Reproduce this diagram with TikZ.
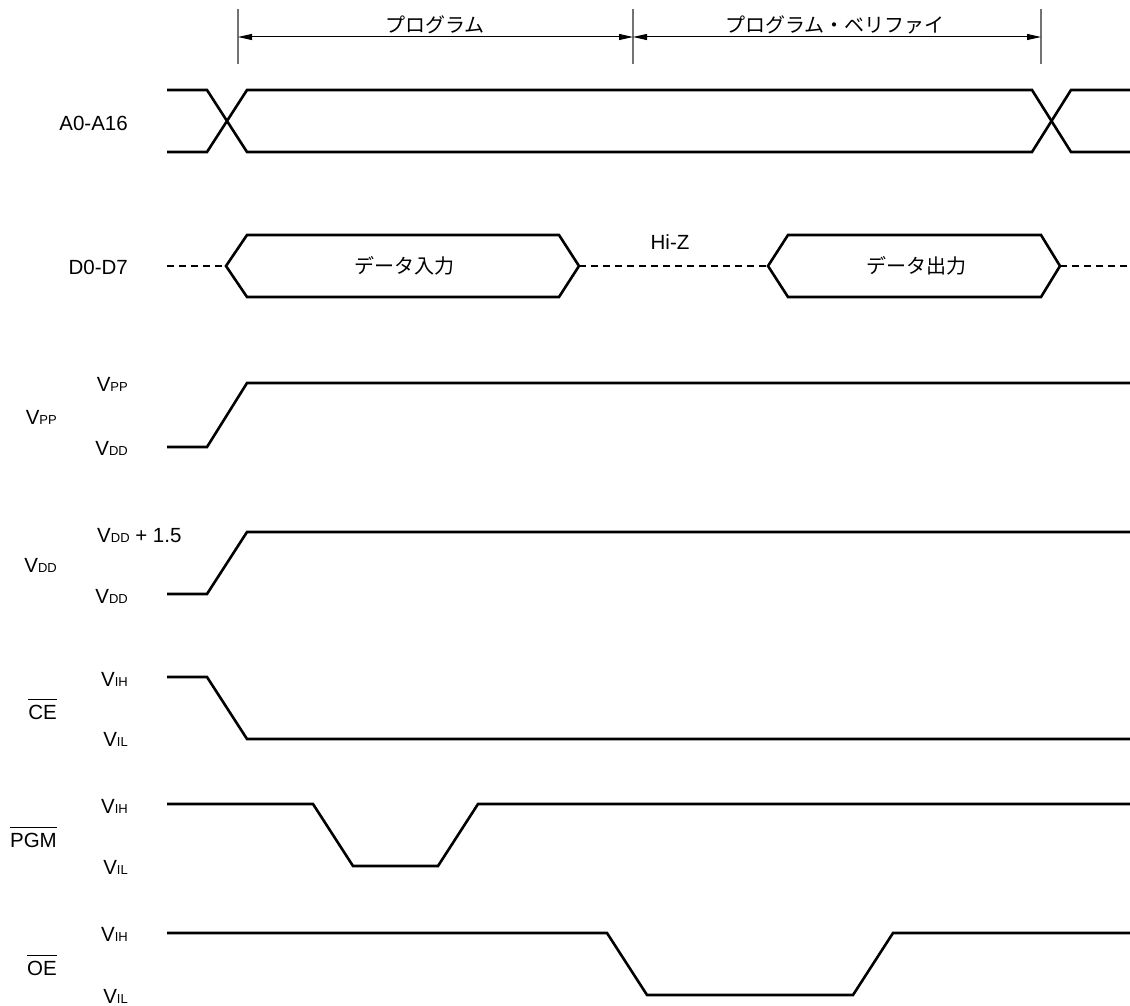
\documentclass[tikz,border=0pt]{standalone}
\usepackage{fontspec}
\setmainfont{Liberation Sans}
\newfontfamily\jpfont{Noto Sans CJK JP}
\usetikzlibrary{arrows.meta}
\newcommand\ovl[1]{\leavevmode\vbox{\hrule height 1.1pt\kern 4.5pt\hbox{#1}}}
\newcommand\vsub[2]{#1{\fontsize{13}{13}\selectfont #2}}
\begin{document}
\begin{tikzpicture}[x=1pt,y=-1pt,
  sig/.style={line width=2.6pt},
  hizline/.style={line width=2.4pt, dash pattern=on 7pt off 5pt},
  lbl/.style={font=\fontsize{20.5}{24}\selectfont, inner sep=0pt},
  jlab/.style={font=\jpfont\fontsize{20}{24}\selectfont, inner sep=0pt},
  tickline/.style={line width=1.3pt, draw=black!55},
  dimline/.style={line width=1pt, {Triangle[length=14pt,width=6pt]}-{Triangle[length=14pt,width=6pt]}}]
\useasboundingbox (0,0) rectangle (1130,1006);

% dimension ticks and arrows
\coordinate (t1a) at (238,9);  \coordinate (t1b) at (238,64);
\coordinate (t2a) at (633,9);  \coordinate (t2b) at (633,64);
\coordinate (t3a) at (1041,9); \coordinate (t3b) at (1041,64);
\draw[tickline] (t1a) -- (t1b);
\draw[tickline] (t2a) -- (t2b);
\draw[tickline] (t3a) -- (t3b);
\coordinate (d1) at (238,37); \coordinate (d2) at (633,37); \coordinate (d3) at (1041,37);
\draw[dimline] (d1) -- (d2);
\draw[dimline] (d2) -- (d3);
\node[jlab] (prog) at (435,25) {プログラム};
\node[jlab] (verify) at (835,25) {プログラム・ベリファイ};

% A0-A16
\draw[sig] (167,90) -- (207,90) -- (247,152) -- (1032,152) -- (1071,90) -- (1130,90);
\draw[sig] (167,152) -- (207,152) -- (247,90) -- (1032,90) -- (1071,152) -- (1130,152);
\node[lbl, anchor=base east] (la) at (128,131) {A0-A16};

% D0-D7
\draw[hizline] (167,266) -- (226,266);
\draw[sig] (226,266) -- (247,235) -- (559,235) -- (579,266) -- (559,297) -- (247,297) -- cycle;
\draw[hizline] (579,266) -- (768,266);
\draw[sig] (768,266) -- (788,235) -- (1041,235) -- (1060,266) -- (1041,297) -- (788,297) -- cycle;
\draw[hizline] (1060,266) -- (1130,266);
\node[lbl, anchor=base east] (ld) at (128,274) {D0-D7};
\node[jlab] (din) at (404,266) {データ入力};
\node[jlab] (dout) at (916,266) {データ出力};
\node[lbl, anchor=base] (hiz) at (670,249) {Hi-Z};

% VPP
\draw[sig] (167,447) -- (207,447) -- (247,383) -- (1130,383);
\node[lbl, anchor=base east] (nvpp) at (57,424) {\vsub{V}{PP}};
\node[lbl, anchor=base east] (vpph) at (128,391) {\vsub{V}{PP}};
\node[lbl, anchor=base east] (vppl) at (128,455) {\vsub{V}{DD}};

% VDD
\draw[sig] (167,594) -- (207,594) -- (247,532) -- (1130,532);
\node[lbl, anchor=base east] (nvdd) at (57,572) {\vsub{V}{DD}};
\node[lbl, anchor=base west] (vddh) at (97,542) {\vsub{V}{DD} + 1.5};
\node[lbl, anchor=base east] (vddl) at (128,603) {\vsub{V}{DD}};

% CE
\draw[sig] (167,677) -- (207,677) -- (247,739) -- (1130,739);
\node[lbl, anchor=base east] (nce) at (57,719) {\ovl{CE}};
\node[lbl, anchor=base east] (ceh) at (128,686) {\vsub{V}{IH}};
\node[lbl, anchor=base east] (cel) at (128,746) {\vsub{V}{IL}};

% PGM
\draw[sig] (167,804) -- (313,804) -- (353,866) -- (438,866) -- (478,804) -- (1130,804);
\node[lbl, anchor=base east] (npgm) at (57,847) {\ovl{PGM}};
\node[lbl, anchor=base east] (pgmh) at (128,813) {\vsub{V}{IH}};
\node[lbl, anchor=base east] (pgml) at (128,874) {\vsub{V}{IL}};

% OE
\draw[sig] (167,933) -- (607,933) -- (647,995) -- (853,995) -- (893,933) -- (1130,933);
\node[lbl, anchor=base east] (noe) at (57,975) {\ovl{OE}};
\node[lbl, anchor=base east] (oeh) at (128,941) {\vsub{V}{IH}};
\node[lbl, anchor=base east] (oel) at (128,1003) {\vsub{V}{IL}};
\end{tikzpicture}
\end{document}
